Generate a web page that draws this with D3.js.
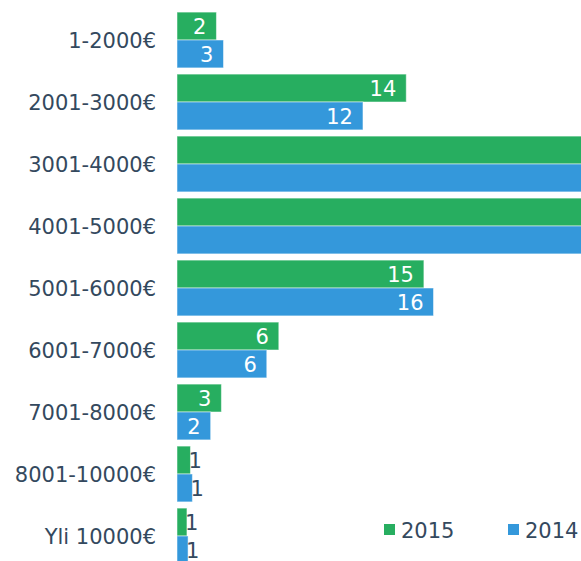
<!DOCTYPE html>
<html>
<head>
<meta charset="utf-8">
<script src="https://cdn.jsdelivr.net/npm/d3@7"></script>
<style>
  body { margin: 0; background: #fff; }
  text { font-family: "DejaVu Sans", Verdana, sans-serif; }
</style>
</head>
<body>
<div id="vis"></div>
<script>
var w = 581, h = 561;

// data (labels are rounded values)
var categories = ["1-2000€", "2001-3000€", "3001-4000€", "4001-5000€", "5001-6000€",
                  "6001-7000€", "7001-8000€", "8001-10000€", "Yli 10000€"];
var values2015 = [2.46, 14.3, 29.0, 28.3, 15.4, 6.35, 2.77, 0.84, 0.62];
var values2014 = [2.9, 11.6, 30.0, 30.2, 16.0, 5.6, 2.1, 0.96, 0.69];
var seriesNames = ["2015", "2014"];
var xMax = 25.2;

var colors = { "2015": "#27ae60", "2014": "#3498db" };
var textColor = "#34495e";
var fontSize = 21;

var series = [
  { name: "2015", values: values2015 },
  { name: "2014", values: values2014 }
];

// plot area (bottom runs past the window, like the original)
var plotLeft = 177, plotRight = w, plotTop = 9, plotBottom = 567;

var x = d3.scaleLinear().domain([0, xMax]).range([plotLeft, plotRight]);
var y = d3.scaleBand().domain(categories).range([plotTop, plotBottom])
  .paddingInner(0.1).paddingOuter(0.05);
var ySub = d3.scaleBand().domain(seriesNames).range([0, y.bandwidth()]);
var fmt = d3.format(".0f");

var svg = d3.select("#vis").append("svg")
  .attr("width", w)
  .attr("height", h);

svg.append("clipPath").attr("id", "plotclip")
  .append("rect")
  .attr("x", plotLeft).attr("y", 0)
  .attr("width", plotRight - plotLeft).attr("height", h);

// category labels
svg.append("g").selectAll("text")
  .data(categories)
  .enter().append("text")
    .attr("x", 156)
    .attr("y", function(d){ return y(d) + y.bandwidth() / 2; })
    .attr("dy", "0.36em")
    .attr("text-anchor", "end")
    .style("font-size", fontSize + "px")
    .style("fill", textColor)
    .text(function(d){ return d; });

var plot = svg.append("g").attr("clip-path", "url(#plotclip)");

series.forEach(function(s) {
  var rows = categories.map(function(c, i){ return { cat: c, v: s.values[i] }; });
  var g = plot.append("g");

  g.selectAll("rect")
    .data(rows)
    .enter().append("rect")
      .attr("x", x(0))
      .attr("y", function(d){ return y(d.cat) + ySub(s.name); })
      .attr("width", function(d){ return x(d.v) - x(0); })
      .attr("height", ySub.bandwidth())
      .attr("fill", colors[s.name])
      .attr("stroke", "rgba(255,255,255,0.5)")
      .attr("stroke-width", 1);

  // labels of bars running off the plot end up out of view, so skip them
  g.selectAll("text")
    .data(rows.filter(function(d){ return d.v <= xMax; }))
    .enter().append("text")
      .attr("y", function(d){ return y(d.cat) + ySub(s.name) + ySub.bandwidth() / 2; })
      .attr("dy", "0.36em")
      .style("font-size", fontSize + "px")
      .text(function(d){ return fmt(d.v); })
      .each(function(d) {
        var t = d3.select(this);
        var tw = this.getComputedTextLength();
        var bw = x(d.v) - x(0);
        // inside at the end if it fits, else just past the bar
        if (tw + 14 <= bw) {
          t.attr("x", x(d.v) - 10).attr("text-anchor", "end").style("fill", "#fff");
        } else {
          t.attr("x", x(d.v) - 2).attr("text-anchor", "start").style("fill", textColor);
        }
      });
});

// legend
var legend = svg.append("g").selectAll("g")
  .data(seriesNames)
  .enter().append("g")
    .attr("transform", function(d, i){ return "translate(" + (384 + i * 124) + ",524)"; });

legend.append("rect")
  .attr("width", 11).attr("height", 11)
  .attr("fill", function(d){ return colors[d]; });

legend.append("text")
  .attr("x", 17)
  .attr("y", 6)
  .attr("dy", "0.36em")
  .style("font-size", fontSize + "px")
  .style("fill", textColor)
  .text(function(d){ return d; });
</script>
</body>
</html>
